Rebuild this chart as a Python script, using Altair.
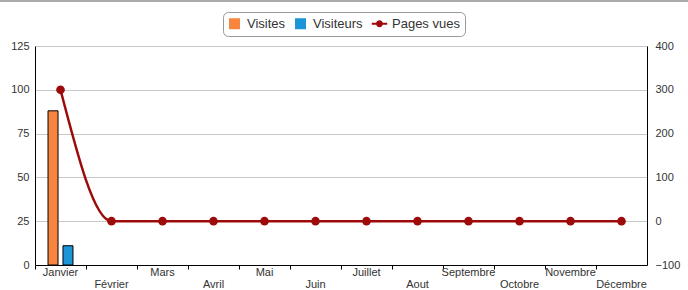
import altair as alt
import pandas as pd

months = ["Janvier", "Février", "Mars", "Avril", "Mai", "Juin", "Juillet",
          "Aout", "Septembre", "Octobre", "Novembre", "Décembre"]
visites = [88, 0, 0, 0, 0, 0, 0, 0, 0, 0, 0, 0]
visiteurs = [11, 0, 0, 0, 0, 0, 0, 0, 0, 0, 0, 0]
pages_vues = [300, 0, 0, 0, 0, 0, 0, 0, 0, 0, 0, 0]

series = ["Visites", "Visiteurs", "Pages vues"]
colors = ["#f7853f", "#1b94d8", "#9c0a0a"]

bars_df = pd.DataFrame(
    [{"mois": m, "serie": "Visites", "valeur": v} for m, v in zip(months, visites)]
    + [{"mois": m, "serie": "Visiteurs", "valeur": v} for m, v in zip(months, visiteurs)]
)
line_df = pd.DataFrame({"mois": months, "serie": "Pages vues", "valeur": pages_vues})
legend_df = pd.DataFrame({"serie": series})

FONT = "Liberation Sans"
LINE_SYMBOL = ("M-1.4,-0.18L1.4,-0.18L1.4,0.18L-1.4,0.18Z "
               "M0.62,0A0.62,0.62 0 1,1 -0.62,0A0.62,0.62 0 1,1 0.62,0Z")

lower_months = months[1::2]
even_test = " || ".join(f"datum.value === '{m}'" for m in lower_months)

x_enc = alt.X(
    "mois:N", sort=months, title=None,
    scale=alt.Scale(domain=months, paddingInner=0, paddingOuter=0),
    axis=alt.Axis(
        bandPosition=0, labelAngle=0, tickSize=4, labelOverlap=False,
        tickColor="#000", domainColor="#000",
        labelPadding={"condition": {"test": even_test, "value": 9}, "value": -3},
        labelFont=FONT, labelFontSize=11, labelColor="#333",
    ),
)

color_scale = alt.Scale(domain=series, range=colors)
legend = alt.Legend(
    title=None, orient="none", direction="horizontal",
    legendX=188, legendY=-34,
    labelFont=FONT, labelFontSize=13, labelColor="#333",
    strokeColor="#999", cornerRadius=5, padding=5,
    symbolSize=121, columnPadding=8, labelOffset=6,
    symbolOpacity=1, symbolStrokeWidth=0,
)

bars = alt.Chart(bars_df).transform_filter("datum.valeur > 0").mark_bar(
    size=10, stroke="#000", strokeWidth=1
).encode(
    x=x_enc,
    xOffset=alt.XOffset("serie:N", sort=["Visites", "Visiteurs"],
                        scale=alt.Scale(domain=["Visites", "Visiteurs"],
                                        paddingInner=0.33, paddingOuter=0.87)),
    y=alt.Y("valeur:Q", title=None,
            scale=alt.Scale(domain=[0, 125], nice=False, zero=True),
            axis=alt.Axis(values=[0, 25, 50, 75, 100, 125], ticks=False,
                          domainColor="#000", gridColor="#c8c8c8",
                          labelFont=FONT, labelFontSize=11, labelColor="#333",
                          labelPadding=6)),
    color=alt.Color("serie:N", scale=color_scale, legend=legend),
)

line = alt.Chart(line_df).mark_line(
    interpolate="monotone", strokeWidth=2.5,
    point=alt.OverlayMarkDef(size=75, filled=True, color="#9c0a0a"),
).encode(
    x=x_enc,
    y=alt.Y("valeur:Q", title=None,
            scale=alt.Scale(domain=[-100, 400], nice=False, zero=False),
            axis=alt.Axis(orient="right", values=[-100, 0, 100, 200, 300, 400],
                          ticks=False, grid=False, domainColor="#000",
                          labelFont=FONT, labelFontSize=11, labelColor="#333",
                          labelPadding=8)),
    color=alt.Color("serie:N", scale=color_scale, legend=legend),
)

legend_layer = alt.Chart(legend_df).mark_point(filled=True, opacity=0).encode(
    color=alt.Color("serie:N", scale=color_scale, legend=legend),
    shape=alt.Shape("serie:N", scale=alt.Scale(domain=series,
                                               range=["square", "square", LINE_SYMBOL]),
                    legend=legend),
)

top_rule = alt.Chart(pd.DataFrame({"a": [0]})).mark_rule(
    color="#aaaaaa", strokeWidth=2
).encode(x=alt.value(-40), x2=alt.value(660), y=alt.value(-45))

chart = alt.layer(bars, line, legend_layer, top_rule).resolve_scale(
    y="independent"
).properties(
    width=612, height=219,
    autosize=alt.AutoSizeParams(type="none"),
    padding={"left": 35, "top": 46, "right": 41, "bottom": 25},
    background="#ffffff",
).configure_view(stroke=None)

chart.save("out.html", embed_options={"renderer": "svg", "actions": False})
